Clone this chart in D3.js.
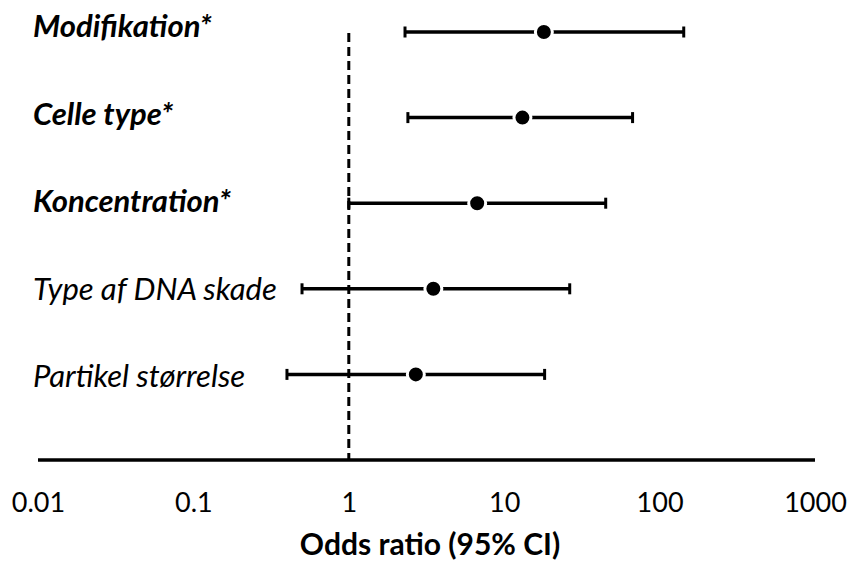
<!DOCTYPE html>
<html>
<head>
<meta charset="utf-8">
<script src="https://cdn.jsdelivr.net/npm/d3@7"></script>
<style>
  html, body { margin: 0; padding: 0; background: #fff; }
  svg { display: block; }
  text { font-family: Lato, "Open Sans", sans-serif; fill: #000; }
</style>
</head>
<body>
<svg id="chart" width="851" height="563"></svg>
<script>
// ---- data ----
const categories = ["Modifikation*", "Celle type*", "Koncentration*", "Type af DNA skade", "Partikel størrelse"];
const significant = [true, true, true, false, false];
const oddsRatio = [18.0, 13.1, 6.7, 3.5, 2.7];
const ciLower   = [2.3, 2.4, 1.0, 0.5, 0.4];
const ciUpper   = [143, 67, 45, 26.4, 18.2];
const tickValues = [0.01, 0.1, 1, 10, 100, 1000];
const tickLabels = ["0.01", "0.1", "1", "10", "100", "1000"];
const axisTitle = "Odds ratio (95% CI)";
const referenceValue = 1;

// ---- layout ----
const svg = d3.select("#chart");

const x = d3.scaleLog().domain([0.01, 1000]).range([38, 815]);
// rows + an extra slot for the axis baseline
const y = d3.scalePoint().domain([...categories, "__axis"]).range([32, 460]);
const yLabel = d3.scalePoint().domain(categories).range([37, 387]);
const axisY = y("__axis");

// reference dashed line
svg.append("line")
  .attr("x1", x(referenceValue)).attr("x2", x(referenceValue))
  .attr("y1", y(categories[0]) + 1).attr("y2", axisY)
  .attr("stroke", "#000").attr("stroke-width", 3)
  .attr("stroke-dasharray", "9,5");

// x axis
const axis = d3.axisBottom(x)
  .tickValues(tickValues)
  .tickFormat((d, i) => tickLabels[i])
  .tickSize(0)
  .tickPadding(0);
const gAxis = svg.append("g").attr("transform", `translate(0,${axisY})`).call(axis);
gAxis.select(".domain").attr("stroke", "#000").attr("stroke-width", 3.5).attr("d", `M${x(0.01)},0H${x(1000)}`);
gAxis.selectAll(".tick text")
  .attr("y", 52).attr("dy", 0)
  .style("font-size", "27px").style("font-family", "Lato, sans-serif");

// axis title
svg.append("text")
  .attr("x", 430).attr("y", 555)
  .attr("text-anchor", "middle")
  .style("font-size", "30px").style("font-weight", "bold")
  .text(axisTitle);

// rows
const rows = categories.map((c, i) => ({c, sig: significant[i], or: oddsRatio[i], lo: ciLower[i], hi: ciUpper[i]}));

const g = svg.append("g");
const capH = 5.5;
g.selectAll("line.ci").data(rows).join("line")
  .attr("class", "ci")
  .attr("x1", d => x(d.lo)).attr("x2", d => x(d.hi))
  .attr("y1", d => y(d.c)).attr("y2", d => y(d.c))
  .attr("stroke", "#000").attr("stroke-width", 3.5);
g.selectAll("line.capL").data(rows).join("line")
  .attr("class", "capL")
  .attr("x1", d => x(d.lo)).attr("x2", d => x(d.lo))
  .attr("y1", d => y(d.c) - capH).attr("y2", d => y(d.c) + capH)
  .attr("stroke", "#000").attr("stroke-width", 3);
g.selectAll("line.capR").data(rows).join("line")
  .attr("class", "capR")
  .attr("x1", d => x(d.hi)).attr("x2", d => x(d.hi))
  .attr("y1", d => y(d.c) - capH).attr("y2", d => y(d.c) + capH)
  .attr("stroke", "#000").attr("stroke-width", 3);
g.selectAll("circle").data(rows).join("circle")
  .attr("cx", d => x(d.or)).attr("cy", d => y(d.c))
  .attr("r", 8.5)
  .attr("fill", "#000").attr("stroke", "#fff").attr("stroke-width", 3);

// labels
svg.selectAll("text.lab").data(rows).join("text")
  .attr("class", "lab")
  .attr("x", 33).attr("y", d => yLabel(d.c))
  .style("font-size", "31px")
  .style("font-style", "italic")
  .style("font-weight", d => d.sig ? "bold" : "normal")
  .text(d => d.c);
</script>
</body>
</html>
